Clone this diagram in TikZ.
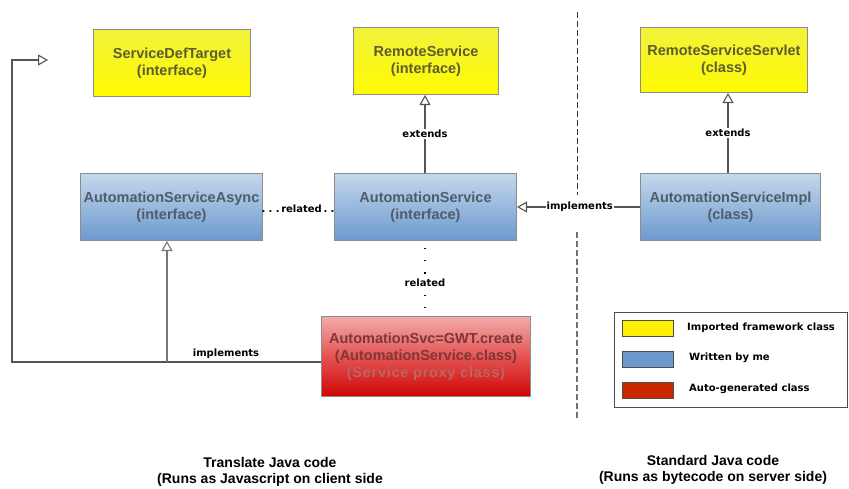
\documentclass[tikz,border=0pt]{standalone}
\usepackage{fontspec}
\setmainfont{Liberation Sans}
\newfontfamily\lblfont{DejaVu Sans}
\usetikzlibrary{arrows.meta}
\definecolor{boxline}{HTML}{8C8C8C}
\definecolor{ytop}{HTML}{F2F23C}
\definecolor{ybot}{HTML}{FFFA00}
\definecolor{btop}{HTML}{C4D7EC}
\definecolor{bbot}{HTML}{6C9ACD}
\definecolor{rtop}{HTML}{F4AAAA}
\definecolor{rmid}{HTML}{E45454}
\definecolor{rbot}{HTML}{D00404}
\definecolor{ytext}{HTML}{5C5C30}
\definecolor{btext}{HTML}{4E5C6C}
\definecolor{rtext}{HTML}{7E3636}
\definecolor{rtextl}{HTML}{B86666}
\definecolor{wire}{HTML}{555555}
\tikzset{
  x=1pt, y=-1pt,
  cls/.style={draw=boxline, line width=1pt, anchor=north west, inner sep=0pt,
    align=center, font=\bfseries\fontsize{14.5}{17}\selectfont},
  yel/.style={cls, top color=ytop, bottom color=ybot, text=ytext},
  blu/.style={cls, top color=btop, bottom color=bbot, text=btext},
  rd/.style={cls, top color=rtop, bottom color=rbot, middle color=rmid, text=rtext},
  lbl/.style={font=\lblfont\bfseries\fontsize{10}{12}\selectfont, inner sep=1pt},
  wirel/.style={draw=wire, line width=1.1pt},
  gen/.style={wirel, -{Triangle[open, width=11pt, length=10pt, fill=white]}},
  swatch/.style={draw=black!70, line width=0.8pt, minimum width=51pt, minimum height=16pt,
    inner sep=0pt, anchor=north west},
  caption/.style={font=\bfseries\fontsize{14}{15.5}\selectfont, align=center}
}
\begin{document}
\begin{tikzpicture}
\useasboundingbox (0,0) rectangle (849,488);

% framework classes
\node[yel, minimum width=157pt, minimum height=67pt] (sdt) at (93,29) {ServiceDefTarget\\(interface)};
\node[yel, minimum width=145pt, minimum height=67pt] (rs) at (353,27) {RemoteService\\(interface)};
\node[yel, minimum width=167pt, minimum height=65pt] (rss) at (640,27) {RemoteServiceServlet\\(class)};

% own classes
\node[blu, minimum width=182pt, minimum height=67pt] (async) at (80,173) {AutomationServiceAsync\\(interface)};
\node[blu, minimum width=182pt, minimum height=67pt] (as) at (334,173) {AutomationService\\(interface)};
\node[blu, minimum width=180pt, minimum height=67pt] (impl) at (640,173) {AutomationServiceImpl\\(class)};

% generated proxy
\node[rd, minimum width=209pt, minimum height=80pt] (proxy) at (321,316)
  {AutomationSvc=GWT.create\\(AutomationService.class)\\{\color{rtextl}\addfontfeature{LetterSpace=5}(Service proxy class)}};

% extends
\coordinate (e1) at (425,173);
\coordinate (e2) at (728,173);
\draw[gen] (e1) -- node[lbl, fill=white, pos=0.5] {extends} (e1 |- rs.south);
\draw[gen] (e2) -- node[lbl, fill=white, pos=0.5] {extends} (e2 |- rss.south);

% implements (server side)
\draw[gen] (impl.west) -- node[lbl, fill=white, pos=0.49] {implements} (as.east);

% related
\node[lbl] (relh) at (298,209) {.\,\,.\,\,.\,related\,.\,\,.};
\node[lbl, fill=white] (relv) at (425,283) {related};
\draw[line width=1.4pt, dash pattern=on 1.2pt off 11pt, dash phase=-7pt] (e1 |- as.south) -- (relv.north);
\draw[line width=1.4pt, dash pattern=on 1.2pt off 11pt, dash phase=-7pt] (relv.south) -- (e1 |- proxy.north);

% implements (client side)
\coordinate (c1) at (12,362);
\coordinate (c2) at (12,60);
\coordinate (c3) at (48,60);
\coordinate (j1) at (167,362);
\draw[gen] (proxy.west |- c1) -- (c1) -- (c2) -- (c3);
\draw[gen, draw=wire!80] (j1) -- (async.south -| j1);
\node[lbl, anchor=south] (impll) at (226,360) {implements};

% client / server separator
\coordinate (d1) at (577,12);
\coordinate (d2) at (577,195);
\coordinate (d3) at (577,232);
\coordinate (d4) at (577,420);
\draw[black!80, line width=1pt, dash pattern=on 6pt off 3pt] (d1) -- (d2);
\draw[black!55, line width=1.4pt, dash pattern=on 6pt off 3pt] (d3) -- (d4);

% legend
\node[draw=black!70, line width=0.8pt, anchor=north west, minimum width=233pt, minimum height=95pt, inner sep=0pt] (legend) at (614,312) {};
\node[swatch, fill=yellow] (sw1) at (622,320) {};
\node[swatch, fill=bbot] (sw2) at (622,351) {};
\node[swatch, fill={rgb,255:red,204;green,40;blue,0}] (sw3) at (622,382) {};
\node[lbl, anchor=west] at (686,328) {Imported framework class};
\node[lbl, anchor=west] at (688,358) {Written by me};
\node[lbl, anchor=west] at (688,389) {Auto-generated class};

% captions
\node[caption] (capl) at (270,472) {Translate Java code\\(Runs as Javascript on client side};
\node[caption] (capr) at (713,470) {Standard Java code\\(Runs as bytecode on server side)};
\end{tikzpicture}
\end{document}
